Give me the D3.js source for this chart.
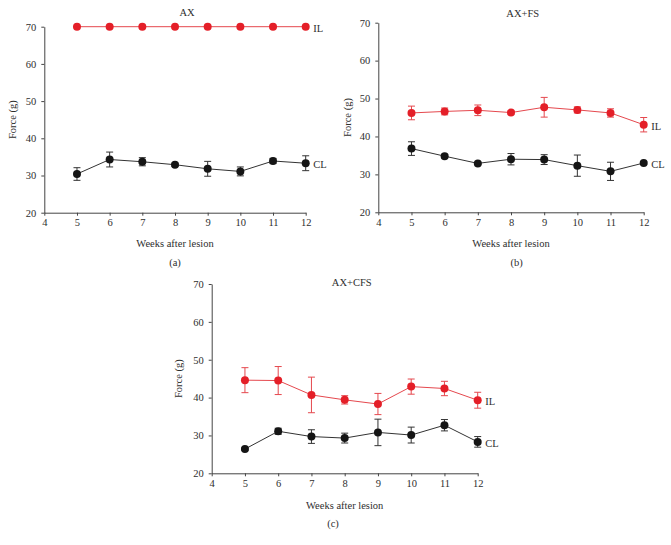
<!DOCTYPE html>
<html>
<head>
<meta charset="utf-8">
<script src="https://cdn.jsdelivr.net/npm/d3@7"></script>
<style>
  body { margin: 0; background: #fff; }
  svg { display: block; }
  text { font-family: "Liberation Serif", "Times New Roman", "DejaVu Serif", serif; fill: #2e2e2e; }
</style>
</head>
<body>
<svg id="chart" width="671" height="545"></svg>
<script>
const weeks = [5, 6, 7, 8, 9, 10, 11, 12];
const xTicks = [4, 5, 6, 7, 8, 9, 10, 11, 12];
const yTicks = [20, 30, 40, 50, 60, 70];

// Panel (a) AX
const axIL = [70, 70, 70, 70, 70, 70, 70, 70];
const axILerr = [0, 0, 0, 0, 0, 0, 0, 0];
const axCL = [30.4, 34.3, 33.7, 32.9, 31.8, 31.1, 33.9, 33.3];
const axCLerr = [1.7, 2.0, 1.1, 0.4, 2.0, 1.2, 0.7, 2.0];

// Panel (b) AX+FS
const fsIL = [46.2, 46.6, 46.9, 46.3, 47.7, 47.0, 46.2, 43.1];
const fsILerr = [1.8, 0.9, 1.4, 0.4, 2.6, 0.8, 1.1, 1.9];
const fsCL = [36.8, 34.8, 32.9, 34.0, 33.9, 32.3, 30.8, 33.0];
const fsCLerr = [1.8, 0.5, 0.3, 1.5, 1.3, 2.8, 2.4, 0.3];

// Panel (c) AX+CFS
const cfsIL = [44.6, 44.5, 40.7, 39.4, 38.3, 42.9, 42.4, 39.3];
const cfsILerr = [3.3, 3.7, 4.7, 1.1, 2.8, 2.0, 1.9, 2.1];
const cfsCL = [26.4, 31.1, 29.7, 29.3, 30.8, 30.1, 32.7, 28.3];
const cfsCLerr = [0.3, 0.8, 1.8, 1.3, 3.5, 2.1, 1.5, 1.4];

const panels = [
  { title: "AX", tag: "(a)", IL: axIL, ILerr: axILerr, CL: axCL, CLerr: axCLerr,
    x0: 44.3, x1: 305.7, y0: 212.7, y1: 26.7, titleX: 187, titleY: 15.5,
    xlabY: 246.5, tagX: 175, tagY: 265.5, ylabX: 12 },
  { title: "AX+FS", tag: "(b)", IL: fsIL, ILerr: fsILerr, CL: fsCL, CLerr: fsCLerr,
    x0: 378.3, x1: 643.7, y0: 212.3, y1: 22.7, titleX: 522.7, titleY: 16.5,
    xlabY: 246.5, tagX: 516.7, tagY: 265.5, ylabX: 347 },
  { title: "AX+CFS", tag: "(c)", IL: cfsIL, ILerr: cfsILerr, CL: cfsCL, CLerr: cfsCLerr,
    x0: 211.7, x1: 477.7, y0: 473.3, y1: 284, titleX: 351.7, titleY: 285.5,
    xlabY: 508.5, tagX: 333, tagY: 527, ylabX: 178 }
];

const RED = "#e41f28", RED_LINE = "#e5484e", BLACK = "#151515";
const svg = d3.select("#chart");
const FS = 10.5;

panels.forEach(p => {
  const x = d3.scaleLinear().domain([4, 12]).range([p.x0, p.x1]);
  const y = d3.scaleLinear().domain([20, 70]).range([p.y0, p.y1]);
  const g = svg.append("g");

  const xa = g.append("g").attr("transform", `translate(0,${p.y0})`)
    .call(d3.axisBottom(x).tickValues(xTicks).tickSize(3).tickSizeOuter(0).tickPadding(3).tickFormat(d3.format("d")));
  const ya = g.append("g").attr("transform", `translate(${p.x0},0)`)
    .call(d3.axisLeft(y).tickValues(yTicks).tickSize(3).tickSizeOuter(0).tickPadding(5).tickFormat(d3.format("d")));
  [xa, ya].forEach(a => {
    a.attr("font-family", null);
    a.selectAll("path, line").attr("stroke", "#444").attr("stroke-width", 1);
    a.selectAll("text").attr("font-size", FS).attr("fill", "#2e2e2e");
  });

  g.append("text").attr("x", p.titleX).attr("y", p.titleY).attr("text-anchor", "middle")
    .attr("font-size", FS).text(p.title);
  g.append("text").attr("x", (p.x0 + p.x1) / 2).attr("y", p.xlabY).attr("text-anchor", "middle")
    .attr("font-size", FS).text("Weeks after lesion");
  g.append("text").attr("x", p.tagX).attr("y", p.tagY).attr("text-anchor", "middle")
    .attr("font-size", FS).text(p.tag);
  g.append("text").attr("transform", `translate(${p.ylabX + 3.5},${(p.y0 + p.y1) / 2}) rotate(-90)`)
    .attr("text-anchor", "middle").attr("font-size", FS).text("Force (g)");

  const series = [
    { vals: p.CL, errs: p.CLerr, c: BLACK, lc: "#333", ec: "#333", name: "CL" },
    { vals: p.IL, errs: p.ILerr, c: RED, lc: RED_LINE, ec: RED_LINE, name: "IL" }
  ];
  series.forEach(s => {
    const data = weeks.map((w, i) => ({ w, v: s.vals[i], e: s.errs[i] }));
    g.append("path").datum(data)
      .attr("fill", "none").attr("stroke", s.lc).attr("stroke-width", 1)
      .attr("d", d3.line().x(d => x(d.w)).y(d => y(d.v)));
    const eb = g.append("g").attr("stroke", s.ec).attr("stroke-width", 1);
    data.filter(d => d.e > 0).forEach(d => {
      const cx = x(d.w), top = y(d.v + d.e), bot = y(d.v - d.e);
      eb.append("line").attr("x1", cx).attr("x2", cx).attr("y1", top).attr("y2", bot);
      eb.append("line").attr("x1", cx - 3.5).attr("x2", cx + 3.5).attr("y1", top).attr("y2", top);
      eb.append("line").attr("x1", cx - 3.5).attr("x2", cx + 3.5).attr("y1", bot).attr("y2", bot);
    });
    g.append("g").selectAll("circle").data(data).join("circle")
      .attr("cx", d => x(d.w)).attr("cy", d => y(d.v)).attr("r", 4).attr("fill", s.c);
    const last = data[data.length - 1];
    g.append("text").attr("x", x(last.w) + 7.5).attr("y", y(last.v) + 5.2)
      .attr("font-size", FS).text(s.name);
  });
});
</script>
</body>
</html>
